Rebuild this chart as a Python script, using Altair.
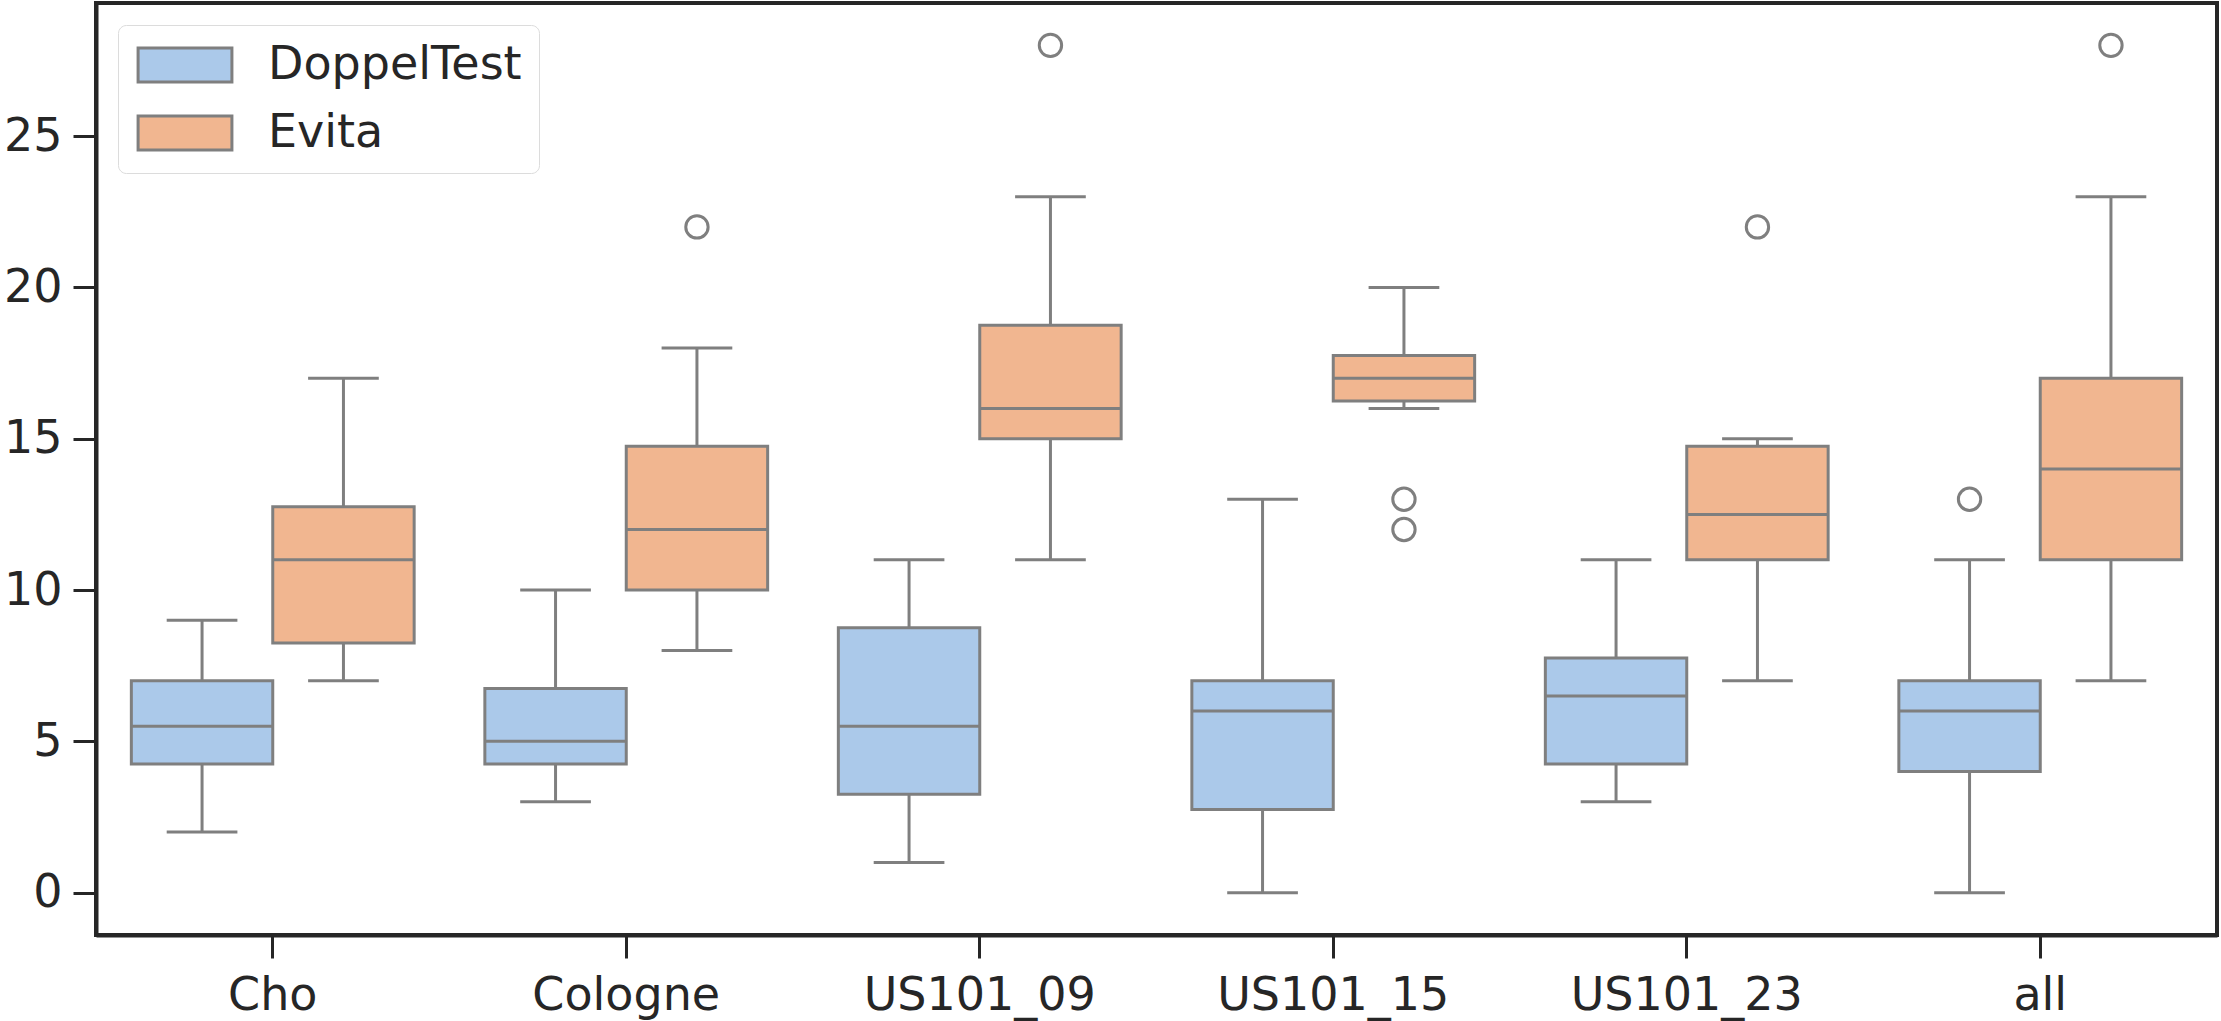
import altair as alt
import pandas as pd

categories = ["Cho", "Cologne", "US101_09", "US101_15", "US101_23", "all"]
groups = ["DoppelTest", "Evita"]

doppel_low = [2, 3, 1, 0, 3, 0]
doppel_q1 = [4.25, 4.25, 3.25, 2.75, 4.25, 4]
doppel_med = [5.5, 5, 5.5, 6, 6.5, 6]
doppel_q3 = [7, 6.75, 8.75, 7, 7.75, 7]
doppel_high = [9, 10, 11, 13, 11, 11]

evita_low = [7, 8, 11, 16, 7, 7]
evita_q1 = [8.25, 10, 15, 16.25, 11, 11]
evita_med = [11, 12, 16, 17, 12.5, 14]
evita_q3 = [12.75, 14.75, 18.75, 17.75, 14.75, 17]
evita_high = [17, 18, 23, 20, 15, 23]

outlier_cat = ["all", "Cologne", "US101_09", "US101_15", "US101_15", "US101_23", "all"]
outlier_grp = ["DoppelTest", "Evita", "Evita", "Evita", "Evita", "Evita", "Evita"]
outlier_val = [13, 22, 28, 13, 12, 22, 28]

colors = ["#abc9ea", "#f1b690"]
line_gray = "#7f7f7f"
dark = "#262626"
font = "DejaVu Sans"
fs = 46

rows = []
for g, lo, q1, md, q3, hi in [
    ("DoppelTest", doppel_low, doppel_q1, doppel_med, doppel_q3, doppel_high),
    ("Evita", evita_low, evita_q1, evita_med, evita_q3, evita_high),
]:
    for i, c in enumerate(categories):
        rows.append(dict(cat=c, grp=g, low=lo[i], q1=q1[i], med=md[i], q3=q3[i], high=hi[i]))
stats = pd.DataFrame(rows)
outl = pd.DataFrame(dict(cat=outlier_cat, grp=outlier_grp, val=outlier_val))

W, H = 2121, 932
band = W / len(categories)
box_w = band * 0.4

x_enc = alt.X("cat:N", sort=categories, title=None,
              scale=alt.Scale(domain=categories, paddingInner=0, paddingOuter=0),
              axis=alt.Axis(labelAngle=0, ticks=True, tickSize=23, tickWidth=3,
                            tickColor=dark, labelPadding=15, labelLimit=0))
xo_enc = alt.XOffset("grp:N", scale=alt.Scale(domain=groups, paddingInner=0, paddingOuter=0.25))
y_scale = alt.Scale(domain=[-1.4, 29.4], nice=False, zero=False)
y_axis = alt.Axis(values=[0, 5, 10, 15, 20, 25], tickSize=23, tickWidth=3, tickColor=dark,
                  labelPadding=11, grid=False, labelLimit=0)

base = alt.Chart(stats)

wlow = base.mark_rule(color=line_gray, strokeWidth=3).encode(
    x=x_enc, xOffset=xo_enc,
    y=alt.Y("low:Q", scale=y_scale, axis=y_axis, title=None), y2="q1:Q")
whigh = base.mark_rule(color=line_gray, strokeWidth=3).encode(
    x=x_enc, xOffset=xo_enc,
    y=alt.Y("q3:Q", scale=y_scale, axis=y_axis, title=None), y2="high:Q")

boxes = base.mark_bar(stroke=line_gray, strokeWidth=3, opacity=1).encode(
    x=x_enc, xOffset=xo_enc,
    y=alt.Y("q1:Q", scale=y_scale, axis=y_axis, title=None), y2="q3:Q",
    fill=alt.Fill("grp:N", scale=alt.Scale(domain=groups, range=colors),
                  legend=alt.Legend(title=None, orient="top-left", offset=22,
                                    symbolType="M-2.76,-1L2.76,-1L2.76,1L-2.76,1Z",
                                    symbolSize=1156, symbolStrokeColor=line_gray,
                                    symbolStrokeWidth=3, symbolOpacity=1,
                                    symbolOffset=27,
                                    labelFontSize=fs, labelFont=font, labelColor=dark,
                                    labelOffset=60, rowPadding=22, labelLimit=0,
                                    padding=17, fillColor="white",
                                    strokeColor="#dcdcdc", cornerRadius=8)),
)

medians = base.mark_tick(color=line_gray, thickness=3, size=box_w, orient="horizontal", opacity=1).encode(
    x=x_enc, xOffset=xo_enc, y=alt.Y("med:Q", scale=y_scale, axis=y_axis, title=None))
cap_lo = base.mark_tick(color=line_gray, thickness=3, size=box_w / 2, orient="horizontal", opacity=1).encode(
    x=x_enc, xOffset=xo_enc, y=alt.Y("low:Q", scale=y_scale, axis=y_axis, title=None))
cap_hi = base.mark_tick(color=line_gray, thickness=3, size=box_w / 2, orient="horizontal", opacity=1).encode(
    x=x_enc, xOffset=xo_enc, y=alt.Y("high:Q", scale=y_scale, axis=y_axis, title=None))

fliers = alt.Chart(outl).mark_point(shape="circle", filled=False, color=line_gray,
                                    strokeWidth=3, size=500, opacity=1).encode(
    x=x_enc, xOffset=xo_enc, y=alt.Y("val:Q", scale=y_scale, axis=y_axis, title=None))

chart = alt.layer(wlow, whigh, boxes, medians, cap_lo, cap_hi, fliers).properties(
    width=W, height=H,
    autosize=alt.AutoSizeParams(type="none"),
    padding={"left": 96, "top": 3, "right": 4, "bottom": 86},
    background="white",
).configure_view(stroke=dark, strokeWidth=4).configure_axis(
    labelFont=font, labelFontSize=fs, labelColor=dark,
    domainColor=dark, domainWidth=4, grid=False,
)

chart.save("out.html", embed_options={"renderer": "svg", "actions": False})
